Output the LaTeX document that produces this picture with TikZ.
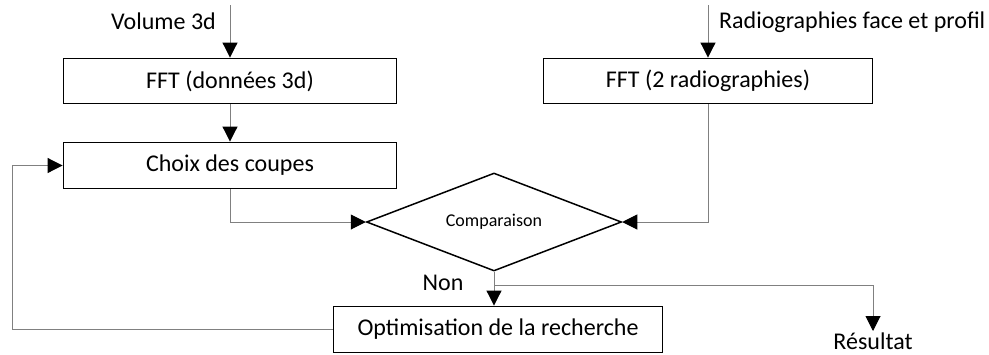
\documentclass[tikz,border=0pt]{standalone}
\usepackage{fontspec}
\setmainfont{Carlito}
\usetikzlibrary{arrows.meta,shapes.geometric}

\begin{document}
\begin{tikzpicture}[x=1pt,y=-1pt,
    box/.style={draw,line width=1.9pt,minimum width=333pt,minimum height=45pt,inner sep=0pt,font=\fontsize{24}{28}\selectfont},
    losange/.style={diamond,draw,line width=1.5pt,aspect=2.6,minimum width=255pt,minimum height=98pt,inner sep=0pt,font=\fontsize{18}{22}\selectfont},
    texte/.style={inner sep=2pt,font=\fontsize{24}{28}\selectfont},
    lien/.style={draw=gray,line width=1pt,-{Triangle[length=15pt,width=15pt,color=black]}}]
                \useasboundingbox (0,0) rectangle (989,354);
                \node[box] (fft3d) at (230,81) {FFT (données 3d)};
                \node[box,minimum width=329pt] (fftradio) at (708,81) {FFT (2 radiographies)};
                \node[box,minimum height=46pt] (choix) at (230,165.5) {Choix des coupes};
                \node[losange] (comp) at (494,222) {Comparaison};
                \node[box,minimum width=329pt,minimum height=46pt] (optim) at (498,329.5) {Optimisation de la recherche};
                \node[texte,anchor=east] (lvol) at (218,21) {Volume 3d};
                \node[texte,anchor=west] (lradio) at (717,22) {Radiographies face et profil};
                \node[texte] (non) at (443,283) {Non};
                \node[texte,anchor=north] (res) at (873,331) {Résultat};
                \coordinate (vol) at (230,5);
                \coordinate (radio) at (708,5);
                \coordinate (branche) at (494,285);
                \coordinate (retour) at (12,0);
                \draw[lien] (vol) -- (fft3d);
                \draw[lien] (radio) -- (fftradio);
                \draw[lien] (fft3d) -- (choix);
                \draw[lien] (choix.south) |- (comp.west);
                \draw[lien] (fftradio.south) |- (comp.east);
                \draw[lien] (comp.south) -- (comp.south |- optim.north);
                \draw[lien] (branche) -| (res.north);
                \draw[lien] (optim.west) -| (retour |- choix.west) -- (choix.west);
            \end{tikzpicture}
\end{document}
